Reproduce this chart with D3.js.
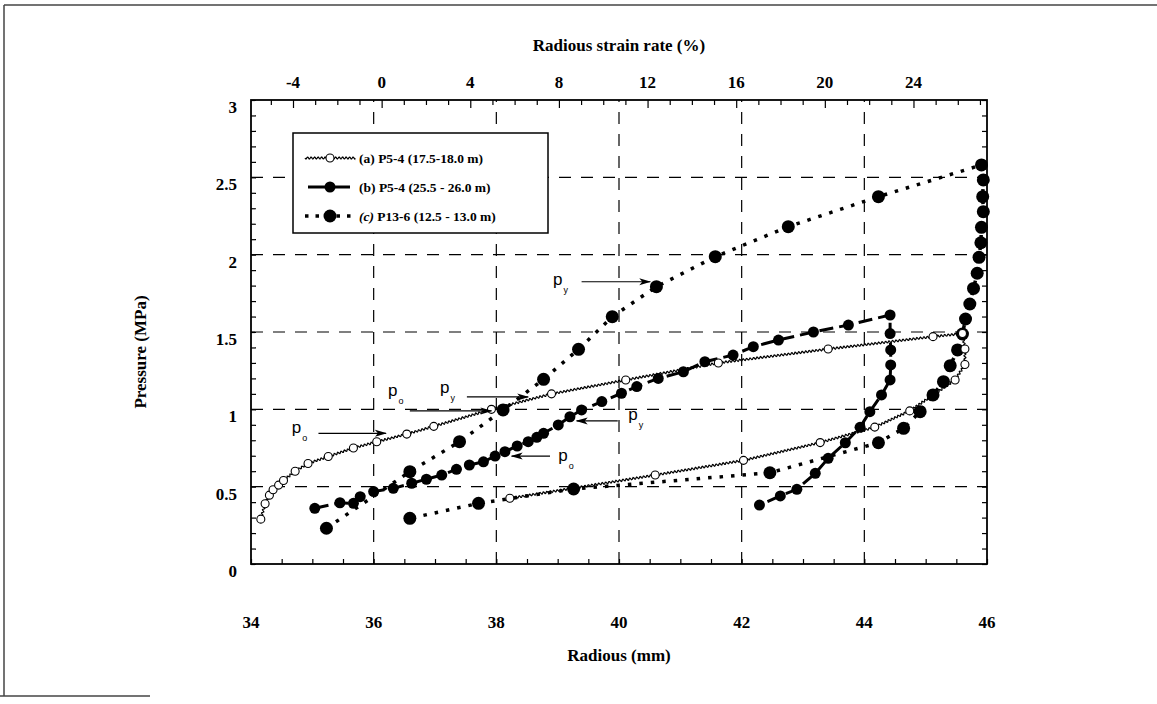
<!DOCTYPE html>
<html>
<head>
<meta charset="utf-8">
<script src="https://cdn.jsdelivr.net/npm/d3@7"></script>
<style>
  html, body { margin: 0; padding: 0; background: #fff; }
  svg { display: block; }
</style>
</head>
<body>
<div id="chart"></div>
<script>
// radius (mm), pressure (MPa)
const seriesA = [
  [34.16, 0.29], [34.23, 0.39], [34.30, 0.445], [34.36, 0.48], [34.45, 0.51], [34.53, 0.54],
  [34.72, 0.60], [34.93, 0.65], [35.26, 0.695], [35.67, 0.75], [36.05, 0.79], [36.54, 0.84],
  [36.98, 0.89], [37.92, 1.0], [38.90, 1.10], [40.11, 1.19], [41.62, 1.30], [43.41, 1.39],
  [45.12, 1.47], [45.60, 1.49], [45.64, 1.39], [45.64, 1.29], [45.48, 1.19], [44.74, 0.99],
  [44.17, 0.885], [43.28, 0.785], [42.03, 0.67], [40.59, 0.575], [38.22, 0.425]
];
const seriesB = [
  [35.04, 0.36], [35.45, 0.396], [35.67, 0.392], [35.78, 0.435], [36.0, 0.468], [36.32, 0.489],
  [36.62, 0.522], [36.86, 0.548], [37.11, 0.575], [37.35, 0.612], [37.56, 0.64], [37.79, 0.661],
  [37.98, 0.698], [38.14, 0.726], [38.34, 0.763], [38.52, 0.791], [38.66, 0.819], [38.77, 0.845],
  [39.01, 0.899], [39.20, 0.952], [39.39, 0.996], [39.72, 1.05], [40.04, 1.104], [40.29, 1.147],
  [40.64, 1.20], [41.05, 1.243], [41.40, 1.308], [41.86, 1.351], [42.19, 1.405], [42.60, 1.448],
  [43.17, 1.50], [43.74, 1.545], [44.42, 1.61], [44.42, 1.49], [44.43, 1.384], [44.43, 1.287],
  [44.42, 1.19], [44.28, 1.093], [44.09, 0.985], [43.93, 0.884], [43.69, 0.784], [43.41, 0.683],
  [43.20, 0.586], [42.90, 0.483], [42.63, 0.44], [42.29, 0.381]
];
const seriesC = [
  [35.23, 0.231], [36.59, 0.597], [37.40, 0.791], [38.11, 0.996], [38.77, 1.194], [39.34, 1.388],
  [39.89, 1.599], [40.61, 1.793], [41.57, 1.987], [42.76, 2.181], [44.23, 2.375], [45.91, 2.58],
  [45.94, 2.483], [45.93, 2.375], [45.94, 2.278], [45.91, 2.177], [45.90, 2.077], [45.87, 1.983],
  [45.84, 1.880], [45.78, 1.782], [45.72, 1.681], [45.65, 1.584], [45.60, 1.487], [45.52, 1.384],
  [45.40, 1.282], [45.29, 1.179], [45.12, 1.093], [44.91, 0.985], [44.64, 0.877], [44.23, 0.784],
  [42.46, 0.59], [39.26, 0.485], [37.71, 0.392], [36.59, 0.295]
];

const legendLabels = [
  ['(a)', ' P5-4 (17.5-18.0 m)'],
  ['(b)', ' P5-4 (25.5 - 26.0 m)'],
  ['(c)', ' P13-6 (12.5 - 13.0 m)']
];

const xTicks = [34, 36, 38, 40, 42, 44, 46];
const yTicks = [0, 0.5, 1, 1.5, 2, 2.5, 3];
const strainTicks = [-4, 0, 4, 8, 12, 16, 20, 24];
const r0 = 36.13; // reference radius for strain axis

// annotations: [main, sub, tailR, tailP, headR, headP, labelR, labelP]
const annotations = [
  ['p', 'o', 35.10, 0.845, 36.20, 0.845, 34.745, 0.866],
  ['p', 'o', 36.59, 0.99, 37.92, 0.99, 36.315, 1.104],
  ['p', 'y', 37.52, 1.08, 38.52, 1.08, 37.163, 1.125],
  ['p', 'y', 39.39, 1.825, 40.51, 1.825, 39.006, 1.825],
  ['p', 'y', 39.98, 0.925, 39.31, 0.925, 40.233, 0.949],
  ['p', 'o', 38.875, 0.698, 38.25, 0.698, 39.09, 0.683]
];

const W = 1157, H = 704;
const plot = { left: 251, right: 987, top: 100, bottom: 564 };
const serif = "'Liberation Serif', 'Times New Roman', serif";
const sans = "'Liberation Sans', Arial, sans-serif";

const svg = d3.select('#chart').append('svg')
  .attr('width', W).attr('height', H);

// scanned page frame
const frame = svg.append('g').attr('stroke', '#444').attr('stroke-width', 1.5).attr('fill', 'none');
frame.append('line').attr('x1', 4).attr('y1', 5).attr('x2', W).attr('y2', 5);
frame.append('line').attr('x1', 4).attr('y1', 5).attr('x2', 4).attr('y2', 696);
frame.append('line').attr('x1', 0).attr('y1', 696).attr('x2', 150).attr('y2', 696);

const x = d3.scaleLinear().domain([34, 46]).range([plot.left, plot.right]);
const y = d3.scaleLinear().domain([0, 3]).range([plot.bottom, plot.top]);
const xs = d3.scaleLinear()
  .domain([(34 / r0 - 1) * 100, (46 / r0 - 1) * 100])
  .range([plot.left, plot.right]);

const defs = svg.append('defs');
defs.append('marker')
  .attr('id', 'arrowhead')
  .attr('viewBox', '0 -5 12 10').attr('refX', 11).attr('refY', 0)
  .attr('markerWidth', 12).attr('markerHeight', 10)
  .attr('markerUnits', 'userSpaceOnUse')
  .attr('orient', 'auto')
  .append('path').attr('d', 'M0,-3.5L12,0L0,3.5L3,0Z').attr('fill', '#000');

// grid
const grid = svg.append('g')
  .attr('stroke', '#000').attr('stroke-width', 1.2).attr('stroke-dasharray', '12,10');
grid.selectAll('.vg').data(xTicks.slice(1, -1)).enter().append('line')
  .attr('x1', d => x(d)).attr('x2', d => x(d))
  .attr('y1', plot.bottom).attr('y2', plot.top);
grid.selectAll('.hg').data(yTicks.slice(1, -1)).enter().append('line')
  .attr('x1', plot.left).attr('x2', plot.right)
  .attr('y1', d => y(d)).attr('y2', d => y(d));

// axes (ticks inward)
const bottomAxis = d3.axisBottom(x).tickValues(d3.range(34, 46.01, 0.5)).tickSize(-5).tickFormat('');
const topAxis = d3.axisTop(xs).tickValues(d3.range(-5, 28, 1)).tickSize(-5).tickFormat('');
const leftAxis = d3.axisLeft(y).tickValues(d3.range(0, 3.001, 0.1)).tickSize(-5).tickFormat('');
const rightAxis = d3.axisRight(y).tickValues(d3.range(0, 3.001, 0.1)).tickSize(-5).tickFormat('');

function styleAxis(g) {
  g.selectAll('path').remove();
  g.selectAll('line').attr('stroke', '#000').attr('stroke-width', 1.2);
}
svg.append('g').attr('transform', `translate(0,${plot.bottom})`).call(bottomAxis).call(styleAxis);
svg.append('g').attr('transform', `translate(0,${plot.top})`).call(topAxis).call(styleAxis)
  .selectAll('.tick line').attr('y2', d => d % 4 === 0 ? 8 : 5);
svg.append('g').attr('transform', `translate(${plot.left},0)`).call(leftAxis).call(styleAxis);
svg.append('g').attr('transform', `translate(${plot.right},0)`).call(rightAxis).call(styleAxis);

svg.append('rect')
  .attr('x', plot.left).attr('y', plot.top)
  .attr('width', plot.right - plot.left).attr('height', plot.bottom - plot.top)
  .attr('fill', 'none').attr('stroke', '#000').attr('stroke-width', 1.8);

// tick labels
const labelFont = { family: serif, size: 17 };
svg.selectAll('.xl').data(xTicks).enter().append('text')
  .attr('x', d => x(d)).attr('y', 628)
  .attr('text-anchor', 'middle')
  .attr('font-family', labelFont.family).attr('font-size', labelFont.size).attr('font-weight', 'bold')
  .text(d => d);
svg.selectAll('.yl').data(yTicks).enter().append('text')
  .attr('x', 237).attr('y', d => y(d) + 13)
  .attr('text-anchor', 'end')
  .attr('font-family', labelFont.family).attr('font-size', labelFont.size).attr('font-weight', 'bold')
  .text(d => d);
svg.selectAll('.sl').data(strainTicks).enter().append('text')
  .attr('x', d => xs(d)).attr('y', 88)
  .attr('text-anchor', 'middle')
  .attr('font-family', labelFont.family).attr('font-size', labelFont.size).attr('font-weight', 'bold')
  .text(d => d);

// axis titles
svg.append('text')
  .attr('x', (plot.left + plot.right) / 2).attr('y', 661)
  .attr('text-anchor', 'middle')
  .attr('font-family', serif).attr('font-size', 17).attr('font-weight', 'bold')
  .text('Radious (mm)');
svg.append('text')
  .attr('x', (plot.left + plot.right) / 2).attr('y', 51)
  .attr('text-anchor', 'middle')
  .attr('font-family', serif).attr('font-size', 17).attr('font-weight', 'bold')
  .text('Radious strain rate (%)');
svg.append('text')
  .attr('transform', `translate(146,${(plot.top + plot.bottom) / 2 + 20}) rotate(-90)`)
  .attr('text-anchor', 'middle')
  .attr('font-family', serif).attr('font-size', 17).attr('font-weight', 'bold')
  .text('Pressure (MPa)');

// wavy line helper for series (a)
function wavyPath(pts, amp, wl) {
  const out = [];
  let s = 0;
  for (let i = 0; i < pts.length - 1; i++) {
    const [x0, y0] = pts[i], [x1, y1] = pts[i + 1];
    const L = Math.hypot(x1 - x0, y1 - y0);
    if (L === 0) continue;
    const ux = (x1 - x0) / L, uy = (y1 - y0) / L;
    for (let t = 0; t < L; t += 0.6) {
      const off = amp * Math.sin(2 * Math.PI * (s + t) / wl);
      out.push([x0 + ux * t - uy * off, y0 + uy * t + ux * off]);
    }
    s += L;
  }
  out.push(pts[pts.length - 1]);
  return 'M' + out.map(p => p[0].toFixed(2) + ',' + p[1].toFixed(2)).join('L');
}

const line = d3.line().x(d => x(d[0])).y(d => y(d[1]));
const series = svg.append('g');

// (c) dotted
series.append('path').datum(seriesC)
  .attr('d', line).attr('fill', 'none')
  .attr('stroke', '#000').attr('stroke-width', 3.5).attr('stroke-dasharray', '3.5,8');
// (b) dashed
series.append('path').datum(seriesB)
  .attr('d', line).attr('fill', 'none')
  .attr('stroke', '#000').attr('stroke-width', 3).attr('stroke-dasharray', '14,6');
// (a) wavy
series.append('path')
  .attr('d', wavyPath(seriesA.map(d => [x(d[0]), y(d[1])]), 1, 3.5))
  .attr('fill', 'none').attr('stroke', '#000').attr('stroke-width', 1.2);

series.selectAll('.mc').data(seriesC).enter().append('circle')
  .attr('cx', d => x(d[0])).attr('cy', d => y(d[1])).attr('r', 6.5).attr('fill', '#000');
series.selectAll('.mb').data(seriesB).enter().append('circle')
  .attr('cx', d => x(d[0])).attr('cy', d => y(d[1])).attr('r', 5.5).attr('fill', '#000');
series.selectAll('.ma').data(seriesA).enter().append('circle')
  .attr('cx', d => x(d[0])).attr('cy', d => y(d[1])).attr('r', 4)
  .attr('fill', '#fff').attr('stroke', '#000').attr('stroke-width', 1.1);

// annotations
const ann = svg.append('g');
annotations.forEach(a => {
  ann.append('line')
    .attr('x1', x(a[2])).attr('y1', y(a[3]))
    .attr('x2', x(a[4])).attr('y2', y(a[5]))
    .attr('stroke', '#000').attr('stroke-width', 1.2)
    .attr('marker-end', 'url(#arrowhead)');
  const t = ann.append('text')
    .attr('x', x(a[6]) - 5).attr('y', y(a[7]) + 3)
    .attr('font-family', sans).attr('font-size', 17);
  t.append('tspan').text(a[0]);
  t.append('tspan').attr('font-size', 9).attr('dx', 1).attr('dy', 8).text(a[1]);
});

// legend
const lg = svg.append('g');
lg.append('rect').attr('x', 293).attr('y', 133).attr('width', 255).attr('height', 100)
  .attr('fill', '#fff').attr('stroke', '#000').attr('stroke-width', 1.5);
const rows = [158, 187, 216];
// (a)
lg.append('path').attr('d', wavyPath([[305, rows[0]], [355, rows[0]]], 1, 3.5))
  .attr('fill', 'none').attr('stroke', '#000').attr('stroke-width', 1.2);
lg.append('circle').attr('cx', 330).attr('cy', rows[0]).attr('r', 4)
  .attr('fill', '#fff').attr('stroke', '#000').attr('stroke-width', 1.1);
// (b)
lg.append('line').attr('x1', 308).attr('x2', 355).attr('y1', rows[1]).attr('y2', rows[1])
  .attr('stroke', '#000').attr('stroke-width', 3).attr('stroke-dasharray', '17,8');
lg.append('circle').attr('cx', 330).attr('cy', rows[1]).attr('r', 5.5).attr('fill', '#000');
// (c)
lg.append('line').attr('x1', 305).attr('x2', 357).attr('y1', rows[2]).attr('y2', rows[2])
  .attr('stroke', '#000').attr('stroke-width', 3.5).attr('stroke-dasharray', '3.5,7');
lg.append('circle').attr('cx', 330).attr('cy', rows[2]).attr('r', 6.5).attr('fill', '#000');

legendLabels.forEach((l, i) => {
  const t = lg.append('text').attr('x', 359).attr('y', rows[i] + 5)
    .attr('font-family', serif).attr('font-size', 13.5).attr('font-weight', 'bold');
  t.append('tspan').attr('font-style', i === 2 ? 'italic' : 'normal').text(l[0]);
  t.append('tspan').text(l[1]);
});
</script>
</body>
</html>
